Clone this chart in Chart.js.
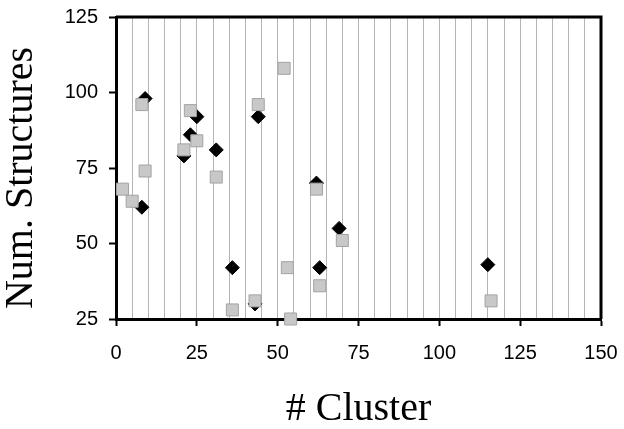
<!DOCTYPE html>
<html>
<head>
<meta charset="utf-8">
<script src="https://cdn.jsdelivr.net/npm/chart.js@4/dist/chart.umd.min.js"></script>
<style>
  html, body { margin: 0; padding: 0; background: #fff; }
  #wrap { width: 624px; height: 429px; }
</style>
</head>
<body>
<div id="wrap"><canvas id="myChart"></canvas></div>
<script>
// cluster number / structure count
const diamondX = [9, 8, 21, 23, 25, 31, 44, 62, 63, 69, 36, 43, 115];
const diamondY = [98, 62, 79, 86, 92, 81, 92, 70, 42, 55, 42, 30, 43];

const squareX = [2, 5, 8, 9, 21, 23, 25, 31, 44, 52, 53, 54, 62, 63, 70, 36, 43, 116];
const squareY = [68, 64, 96, 74, 81, 94, 84, 72, 96, 108, 42, 25, 68, 36, 51, 28, 31, 31];

const xTicks = [0, 25, 50, 75, 100, 125, 150];
const yTicks = [25, 50, 75, 100, 125];

const toPoints = (xs, ys) => xs.map((x, i) => ({x: x, y: ys[i]}));

// top and right frame lines
const frame = {
  id: 'frame',
  beforeDatasetsDraw(chart) {
    const a = chart.chartArea;
    const ctx = chart.ctx;
    ctx.save();
    ctx.strokeStyle = '#000';
    ctx.lineWidth = 3;
    ctx.beginPath();
    ctx.moveTo(a.left, a.top);
    ctx.lineTo(a.right, a.top);
    ctx.lineTo(a.right, a.bottom);
    ctx.stroke();
    ctx.restore();
  }
};

const cfg = {
  type: 'scatter',
  data: {
    datasets: [{
      label: 'squares',
      data: toPoints(squareX, squareY),
      pointStyle: 'rect',
      pointRadius: 8.5,
      backgroundColor: '#c8c8c8',
      borderColor: '#a4a4a4',
      borderWidth: 1,
      clip: false,
      order: 0
    }, {
      label: 'diamonds',
      data: toPoints(diamondX, diamondY),
      pointStyle: 'rectRot',
      pointRadius: 7,
      backgroundColor: '#000',
      borderColor: '#000',
      borderWidth: 1,
      clip: false,
      order: 1
    }]
  },
  options: {
    responsive: true,
    maintainAspectRatio: false,
    animation: false,
    layout: { padding: { top: 17, right: 23, left: 0, bottom: 0 } },
    plugins: { legend: { display: false }, tooltip: { enabled: false } },
    scales: {
      x: {
        type: 'linear',
        min: 0,
        max: 150,
        afterFit: s => { s.height = 110; s.paddingLeft = 0; s.paddingRight = 0; },
        border: { display: true, color: '#000', width: 3 },
        grid: {
          color: c => (c.tick && (c.tick.value === 0 || c.tick.value === 150)) ? 'rgba(0,0,0,0)' : '#b4b4b4',
          lineWidth: 1,
          tickLength: 7,
          tickColor: c => (c.tick && c.tick.value % 25 === 0) ? '#000' : 'rgba(0,0,0,0)',
          tickWidth: 2
        },
        ticks: {
          stepSize: 5,
          autoSkip: false,
          maxRotation: 0,
          padding: 15,
          color: '#000',
          font: { family: 'Liberation Sans', size: 20 },
          callback: v => xTicks.includes(v) ? String(v) : ''
        },
        title: {
          display: true,
          text: '# Cluster',
          color: '#000',
          font: { family: 'Liberation Serif', size: 40, weight: 'normal', lineHeight: 1 },
          padding: { top: 0, bottom: 0 }
        }
      },
      y: {
        type: 'linear',
        min: 25,
        max: 125,
        afterFit: s => { s.width = 116; s.paddingTop = 0; s.paddingBottom = 0; },
        afterBuildTicks: s => { s.ticks = yTicks.map(v => ({value: v})); },
        border: { display: true, color: '#000', width: 3 },
        grid: {
          drawOnChartArea: false,
          tickLength: 7,
          tickColor: '#000',
          tickWidth: 2
        },
        ticks: {
          padding: 11,
          color: '#000',
          font: { family: 'Liberation Sans', size: 20 }
        },
        title: {
          display: true,
          text: 'Num. Structures  ',
          color: '#000',
          font: { family: 'Liberation Serif', size: 40, weight: 'normal', lineHeight: 1 },
          padding: { top: 1, bottom: 0 }
        }
      }
    }
  },
  plugins: [frame]
};

let chart = new Chart(document.getElementById('myChart'), cfg);
</script>
</body>
</html>
